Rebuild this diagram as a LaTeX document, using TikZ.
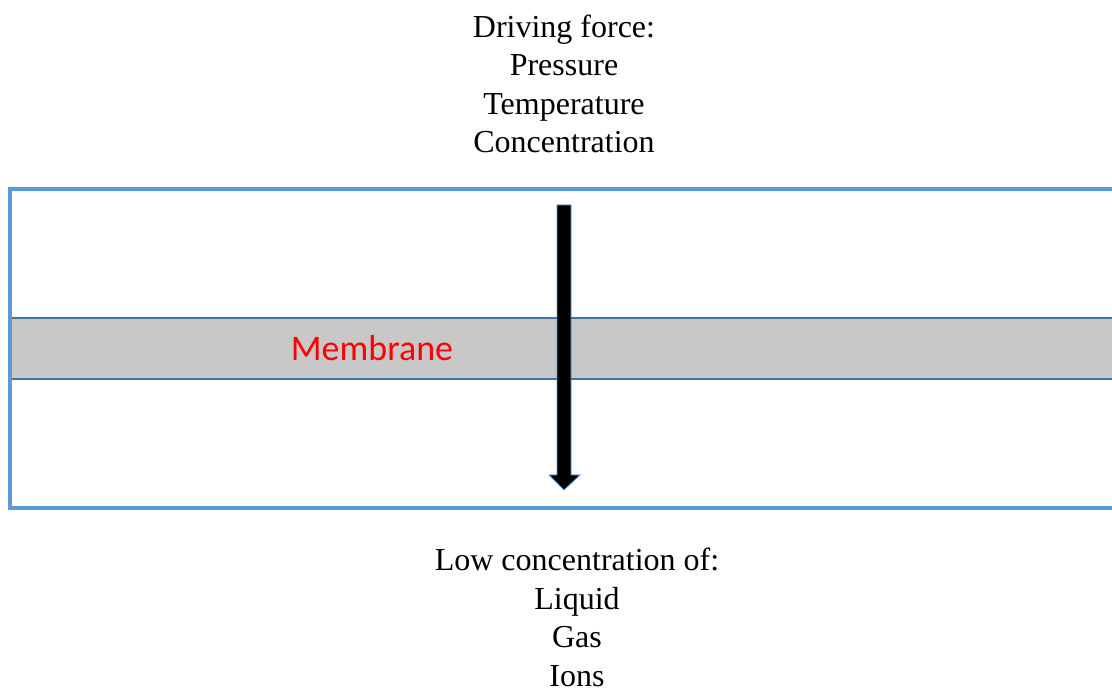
\documentclass[tikz,border=0pt]{standalone}
\usepackage{fontspec}
\setmainfont{Liberation Serif}
\newfontfamily\membranefont{Carlito}
\definecolor{frameblue}{HTML}{5B9BD5}
\definecolor{bandblue}{HTML}{41719C}
\definecolor{bandgray}{HTML}{C8C8C8}
\begin{document}
\begin{tikzpicture}[x=1pt,y=-1pt,
  label text/.style={font=\fontsize{32}{38.5}\selectfont, align=center, inner sep=0pt, anchor=base},
  frame/.style={draw=frameblue, line width=3.5pt},
  band/.style={fill=bandgray, draw=none},
  bandline/.style={draw=bandblue, line width=1.5pt},
  flowarrow/.style={fill=black, draw=frameblue, line width=0.8pt, line join=miter}
]
\useasboundingbox (0,0) rectangle (1112,692);
\clip (0,0) rectangle (1112,692);
% membrane band
\fill[band] (10,318) rectangle (1120,379);
\draw[bandline] (10,318) -- (1120,318);
\draw[bandline] (10,379) -- (1120,379);
\node[font=\membranefont\fontsize{36}{40}\selectfont, text=red, inner sep=0pt, anchor=base] (membrane) at (372,361) {Membrane};
% outer frame, open to the right
\draw[frame] (1125,189) -- (10,189) -- (10,508) -- (1125,508);
% arrow
\coordinate (arrowtop) at (564,205);
\coordinate (arrowtip) at (564,490);
\draw[flowarrow] (557,205) -- (571,205) -- (571,475) -- (580,475) -- (arrowtip) -- (549,475) -- (557,475) -- cycle;
% texts
\node[label text] (driving) at (564,153) {Driving force:\\Pressure\\Temperature\\Concentration};
\node[label text] (low) at (577,686) {Low concentration of:\\Liquid\\Gas\\Ions};
\end{tikzpicture}
\end{document}
